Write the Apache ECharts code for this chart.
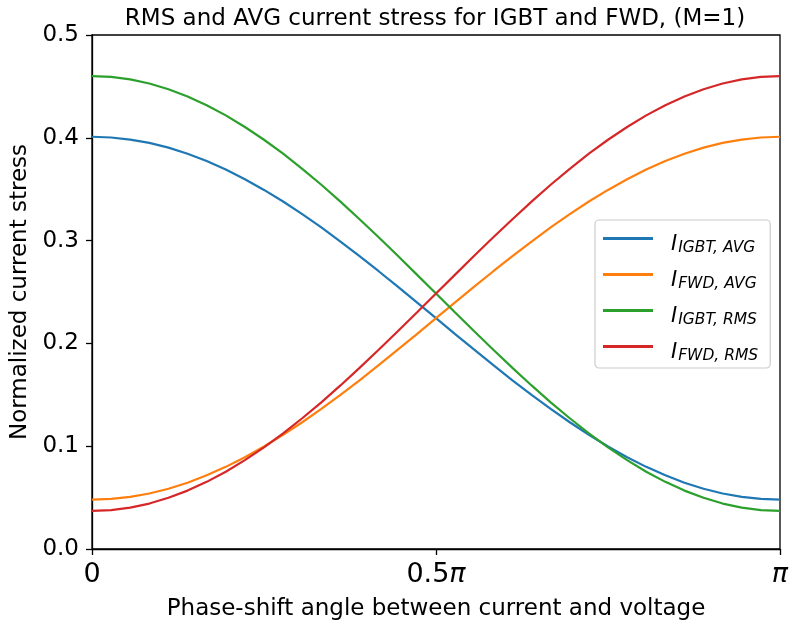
<!DOCTYPE html>
<html>
<head>
<meta charset="utf-8">
<script src="https://cdn.jsdelivr.net/npm/echarts@6/dist/echarts.min.js"></script>
<style>
html,body{margin:0;padding:0;background:#fff;}
#chart{width:790px;height:624px;}
</style>
</head>
<body>
<div id="chart"></div>
<script>
// phase-shift angle, degrees (0 .. 180 = 0 .. π)
const phaseDeg = [0,5,10,15,20,25,30,35,40,45,50,55,60,65,70,75,80,85,90,95,100,105,110,115,120,125,130,135,140,145,150,155,160,165,170,175,180];
// values
const igbtAvg = [0.4010,0.4003,0.3983,0.3950,0.3904,0.3845,0.3774,0.3691,0.3597,0.3493,0.3380,0.3257,0.3128,0.2991,0.2849,0.2702,0.2552,0.2399,0.2245,0.2091,0.1939,0.1788,0.1641,0.1499,0.1363,0.1233,0.1111,0.0997,0.0893,0.0799,0.0717,0.0645,0.0586,0.0540,0.0507,0.0487,0.0480];
const fwdAvg  = [0.0480,0.0487,0.0507,0.0540,0.0586,0.0645,0.0717,0.0799,0.0893,0.0997,0.1111,0.1233,0.1363,0.1499,0.1641,0.1788,0.1939,0.2091,0.2245,0.2399,0.2552,0.2702,0.2849,0.2991,0.3128,0.3257,0.3380,0.3493,0.3597,0.3691,0.3774,0.3845,0.3904,0.3950,0.3983,0.4003,0.4010];
const igbtRms = [0.4600,0.4592,0.4568,0.4528,0.4472,0.4402,0.4317,0.4218,0.4105,0.3981,0.3845,0.3698,0.3543,0.3379,0.3208,0.3032,0.2852,0.2669,0.2485,0.2301,0.2118,0.1938,0.1762,0.1591,0.1427,0.1272,0.1125,0.0989,0.0865,0.0752,0.0653,0.0568,0.0498,0.0442,0.0402,0.0378,0.0370];
const fwdRms  = [0.0370,0.0378,0.0402,0.0442,0.0498,0.0568,0.0653,0.0752,0.0865,0.0989,0.1125,0.1272,0.1427,0.1591,0.1762,0.1938,0.2118,0.2301,0.2485,0.2669,0.2852,0.3032,0.3208,0.3379,0.3543,0.3698,0.3845,0.3981,0.4105,0.4218,0.4317,0.4402,0.4472,0.4528,0.4568,0.4592,0.4600];
const seriesNames = ['IGBT, AVG','FWD, AVG','IGBT, RMS','FWD, RMS'];
const colors = ['#1f77b4','#ff7f0e','#2ca02c','#d62728'];
const xTickLabels = {0:'{n|0}', 90:'{n|0.5}{p|π}', 180:'{p|π}'};

const FONT = 'DejaVu Sans';
const chart = echarts.init(document.getElementById('chart'), null, {renderer:'canvas'});
const allData = [igbtAvg, fwdAvg, igbtRms, fwdRms];

const option = {
  backgroundColor: '#fff',
  animation: false,
  textStyle: {fontFamily: FONT, color: '#000'},
  title: {
    text: 'RMS and AVG current stress for IGBT and FWD, (M=1)',
    left: 430, top: 3, textAlign: 'center',
    textStyle: {fontFamily: FONT, fontSize: 23, fontWeight: 'normal', color: '#000'}
  },
  grid: {left: 92, right: 10, top: 35, bottom: 75, containLabel: false, outerBoundsMode: 'none',
         show: true, borderColor: '#000', borderWidth: 1.3, backgroundColor: 'transparent'},
  legend: {
    left: 595, top: 220,
    orient: 'vertical',
    icon: 'rect', itemWidth: 50, itemHeight: 3, itemGap: 14,
    padding: [14, 12, 4, 8],
    backgroundColor: '#fff', borderColor: '#cccccc', borderWidth: 1.2, borderRadius: 4,
    data: seriesNames,
    formatter: function(name){ return '{i|I}{s|' + name + '}'; },
    textStyle: {
      fontFamily: FONT,
      rich: {
        i: {fontFamily: FONT, fontStyle: 'italic', fontSize: 21, color: '#000', padding: [13,0,0,13], verticalAlign: 'top'},
        s: {fontFamily: FONT, fontStyle: 'italic', fontSize: 15.5, color: '#000', padding: [19,0,0,1], verticalAlign: 'top'}
      }
    }
  },
  xAxis: {
    type: 'value', min: 0, max: 180, interval: 90,
    name: 'Phase-shift angle between current and voltage',
    nameLocation: 'middle', nameGap: 49,
    nameTextStyle: {fontFamily: FONT, fontSize: 23, color: '#000'},
    axisLine: {show: true, lineStyle: {color: '#000', width: 1.3}},
    axisTick: {show: true, length: 6, lineStyle: {color: '#000', width: 1.3}},
    splitLine: {show: false},
    axisLabel: {
      margin: 12,
      formatter: function(v){ return xTickLabels[v] || ''; },
      rich: {
        n: {fontFamily: FONT, fontSize: 27, color: '#000'},
        p: {fontFamily: FONT, fontSize: 27, fontStyle: 'italic', color: '#000'}
      }
    }
  },
  yAxis: {
    type: 'value', min: 0, max: 0.5, interval: 0.1,
    name: 'Normalized current stress',
    nameLocation: 'middle', nameGap: 56,
    nameTextStyle: {fontFamily: FONT, fontSize: 23, color: '#000'},
    axisLine: {show: true, lineStyle: {color: '#000', width: 1.3}},
    axisTick: {show: true, length: 6, lineStyle: {color: '#000', width: 1.3}},
    splitLine: {show: false},
    axisLabel: {
      margin: 13, fontFamily: FONT, fontSize: 23, color: '#000',
      formatter: function(v){ return v.toFixed(1); }
    }
  },
  series: seriesNames.map(function(n, i){
    return {
      name: n, type: 'line', smooth: false, showSymbol: false, symbol: 'none',
      color: colors[i],
      lineStyle: {width: 2.2, color: colors[i]},
      data: phaseDeg.map(function(x, k){ return [x, allData[i][k]]; })
    };
  })
};
chart.setOption(option);
</script>
</body>
</html>
